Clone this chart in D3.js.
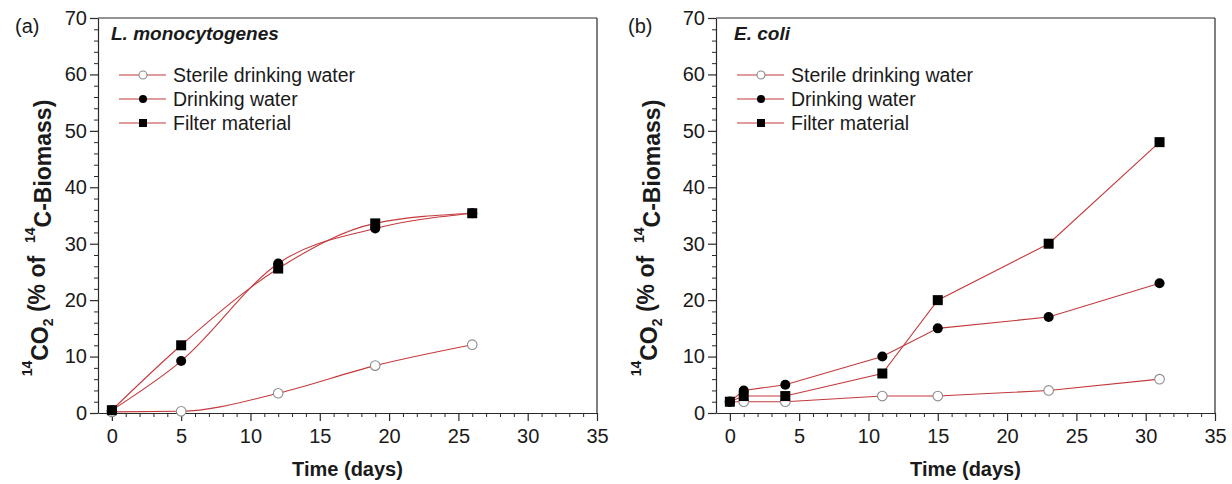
<!DOCTYPE html>
<html>
<head>
<meta charset="utf-8">
<script src="https://cdn.jsdelivr.net/npm/d3@7"></script>
<style>
  html, body { margin: 0; padding: 0; background: #fff; }
  svg { display: block; font-family: "Liberation Sans", Arial, sans-serif; }
</style>
</head>
<body>
<svg id="chart" width="1232" height="484"></svg>
<script>
// ---- data ----
const seriesNames = ["Sterile drinking water", "Drinking water", "Filter material"];
const panelLabels = ["(a)", "(b)"];
const panelTitles = ["L. monocytogenes", "E. coli"];

const daysA = [0, 5, 12, 19, 26];
const sterileA = [0.2, 0.3, 3.5, 8.4, 12.1];
const drinkingA = [0.5, 9.2, 26.5, 32.7, 35.4];
const filterA = [0.5, 12.0, 25.6, 33.6, 35.4];

const daysB = [0, 1, 4, 11, 15, 23, 31];
const sterileB = [2, 2, 2, 3, 3, 4, 6];
const drinkingB = [2, 4, 5, 10, 15, 17, 23];
const filterB = [2, 3, 3, 7, 20, 30, 48];

const xTicks = [0, 5, 10, 15, 20, 25, 30, 35];
const yTicks = [0, 10, 20, 30, 40, 50, 60, 70];
const xTitle = "Time (days)";

// ---- layout ----
const svg = d3.select("#chart");
const LINE = "#c4393c";
const AXIS = "#2a2a2a";
const TXT = "#1a1a1a";

const panels = [
  { x0: 98, x1: 597, days: daysA, series: [sterileA, drinkingA, filterA], curve: d3.curveMonotoneX,
    labelX: 15, titleDx: 13, yTitleX: 42 },
  { x0: 716, x1: 1215, days: daysB, series: [sterileB, drinkingB, filterB], curve: d3.curveLinear,
    labelX: 628, titleDx: 18, yTitleX: 651 }
];

const y = d3.scaleLinear().domain([0, 70]).range([413, 18]);

panels.forEach((p, pi) => {
  const x = d3.scaleLinear().domain([-1, 35]).range([p.x0, p.x1]);
  const g = svg.append("g");

  // minor ticks
  const xMinor = d3.range(0, 36).filter(v => v % 5 !== 0);
  const yMinor = d3.range(0, 71, 2).filter(v => v % 10 !== 0);

  g.append("g").attr("transform", `translate(0,${y(0)})`)
    .call(d3.axisBottom(x).tickValues(xMinor).tickSize(4).tickSizeOuter(0).tickFormat(""))
    .call(s => s.select(".domain").remove())
    .call(s => s.selectAll("line").attr("stroke", AXIS));
  g.append("g").attr("transform", `translate(${p.x0},0)`)
    .call(d3.axisLeft(y).tickValues(yMinor).tickSize(4).tickSizeOuter(0).tickFormat(""))
    .call(s => s.select(".domain").remove())
    .call(s => s.selectAll("line").attr("stroke", AXIS));

  // major axes
  const xa = g.append("g").attr("transform", `translate(0,${y(0)})`)
    .call(d3.axisBottom(x).tickValues(xTicks).tickSize(8).tickSizeOuter(0).tickPadding(8));
  const ya = g.append("g").attr("transform", `translate(${p.x0},0)`)
    .call(d3.axisLeft(y).tickValues(yTicks).tickSize(8).tickSizeOuter(0).tickPadding(3));
  [xa, ya].forEach(a => {
    a.select(".domain").attr("stroke", AXIS).attr("stroke-width", 1.2);
    a.selectAll("line").attr("stroke", AXIS).attr("stroke-width", 1.2);
    a.selectAll("text").attr("font-size", 20).attr("fill", TXT)
      .attr("font-family", "'Liberation Sans', Arial, sans-serif");
  });

  // frame top & right
  g.append("line").attr("x1", p.x0).attr("x2", p.x1).attr("y1", y(70)).attr("y2", y(70))
    .attr("stroke", AXIS).attr("stroke-width", 1.2);
  g.append("line").attr("x1", p.x1).attr("x2", p.x1).attr("y1", y(70)).attr("y2", y(0))
    .attr("stroke", AXIS).attr("stroke-width", 1.2);

  // lines
  const line = d3.line().x((d, i) => x(p.days[i])).y(d => y(d)).curve(p.curve);
  p.series.forEach(s => {
    g.append("path").datum(s).attr("d", line)
      .attr("fill", "none").attr("stroke", LINE).attr("stroke-width", 1.1);
  });

  // markers
  const drawMarker = (sel, type, cx, cy, size) => {
    if (type === 0) {
      sel.append("circle").attr("cx", cx).attr("cy", cy).attr("r", size)
        .attr("fill", "#fff").attr("stroke", "#8c8c8c").attr("stroke-width", 1.1);
    } else if (type === 1) {
      sel.append("circle").attr("cx", cx).attr("cy", cy).attr("r", size).attr("fill", "#000");
    } else {
      sel.append("rect").attr("x", cx - size).attr("y", cy - size)
        .attr("width", size * 2).attr("height", size * 2).attr("fill", "#000");
    }
  };
  p.series.forEach((s, si) => {
    s.forEach((v, i) => drawMarker(g, si, x(p.days[i]), y(v), si === 0 ? 4.8 : 5));
  });

  // legend
  seriesNames.forEach((name, si) => {
    const ly = 75 + si * 24;
    g.append("line").attr("x1", p.x0 + 21).attr("x2", p.x0 + 68).attr("y1", ly).attr("y2", ly)
      .attr("stroke", LINE).attr("stroke-width", 1.1);
    drawMarker(g, si, p.x0 + 45, ly, 4);
    g.append("text").attr("x", p.x0 + 75).attr("y", ly).attr("dy", "0.36em")
      .attr("font-size", 19.5).attr("fill", TXT).text(name);
  });

  // title
  g.append("text").attr("x", p.x0 + p.titleDx).attr("y", 40)
    .attr("font-size", 19).attr("font-weight", "bold").attr("font-style", "italic")
    .attr("fill", TXT).text(panelTitles[pi]);

  // panel label
  g.append("text").attr("x", p.labelX).attr("y", 33)
    .attr("font-size", 20).attr("fill", TXT).text(panelLabels[pi]);

  // x title
  g.append("text").attr("x", (p.x0 + p.x1) / 2).attr("y", 476)
    .attr("text-anchor", "middle").attr("font-size", 20).attr("font-weight", "bold")
    .attr("fill", TXT).text(xTitle);

  // y title
  const yt = g.append("text")
    .attr("transform", `translate(${p.yTitleX},238) rotate(-90)`)
    .attr("text-anchor", "middle").attr("font-size", 23).attr("font-weight", "bold")
    .attr("fill", TXT);
  yt.append("tspan").attr("font-size", 14).attr("dy", "-0.7em").text("14");
  yt.append("tspan").attr("dy", "0.7em").text("CO");
  yt.append("tspan").attr("font-size", 14).attr("dy", "0.35em").text("2");
  yt.append("tspan").attr("dy", "-0.35em").text("\u00A0(% of \u00A0");
  yt.append("tspan").attr("font-size", 14).attr("dy", "-0.7em").text("14");
  yt.append("tspan").attr("dy", "0.7em").text("C-Biomass)");
});
</script>
</body>
</html>
